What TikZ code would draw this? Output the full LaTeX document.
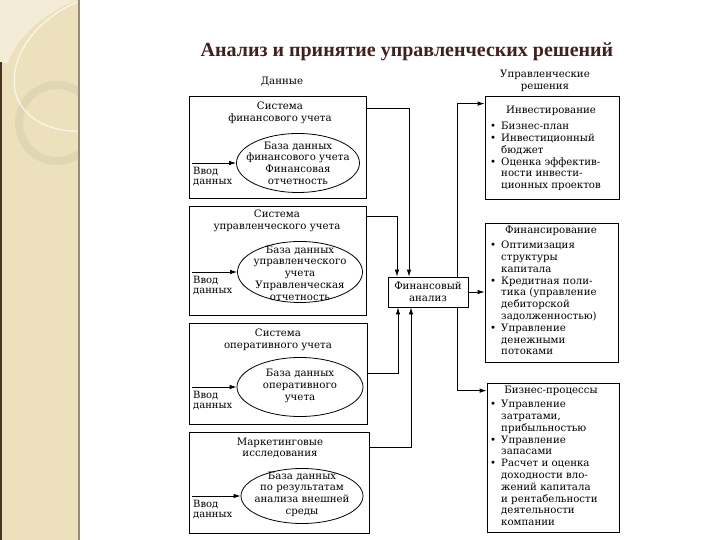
\documentclass[tikz,border=0pt]{standalone}
\usepackage{fontspec}
\setmainfont{DejaVu Serif}
\newfontfamily\headfont{Liberation Serif}
\usepackage{xcolor}
\usetikzlibrary{arrows.meta, positioning, shapes.geometric, calc}
\definecolor{stripbg}{RGB}{236,225,188}
\definecolor{striplt}{RGB}{243,236,214}
\definecolor{stripring}{RGB}{224,214,180}
\definecolor{stripedge}{RGB}{150,140,120}
\definecolor{stripdark}{RGB}{70,50,30}
\definecolor{titlebrown}{RGB}{66,32,28}
\newcommand{\blt}{\makebox[11pt][l]{\textbullet}}
\newcommand{\cnt}{\hspace*{11pt}}

\begin{document}
\begin{tikzpicture}[x=1pt, y=-1pt,
  sys/.style={rectangle, draw=black, line width=0.8pt, inner sep=0pt},
  db/.style={ellipse, draw=black, line width=0.8pt, inner sep=0pt},
  txt/.style={align=center, inner sep=0pt, font=\fontsize{10.2}{11.7}\selectfont},
  inp/.style={align=left, inner sep=0pt, font=\fontsize{10}{10.5}\selectfont},
  res/.style={rectangle, draw=black, line width=0.8pt, inner sep=0pt},
  lst/.style={align=left, anchor=north west, inner sep=0pt, font=\fontsize{10.2}{11.8}\selectfont},
  arr/.style={-{Latex[length=7pt, width=4.5pt]}, line width=0.8pt, black}
]
\useasboundingbox (0,0) rectangle (720,540);
\fill[white] (0,0) rectangle (720,540);
%% Slide strip
\begin{scope}
  \clip (0,0) rectangle (79,540);
  \fill[stripbg] (0,0) rectangle (79,540);
  \fill[striplt] (0,0) -- (77,0) .. controls (40,15) and (15,40) .. (8,63) -- (0,63) -- cycle;
  \draw[stripring, line width=8pt] (57,123) circle[radius=38];
  \draw[white!75!stripbg, line width=1.2pt] (77,2) .. controls (25,25) and (5,70) .. (18,100)
    .. controls (30,125) and (60,132) .. (79,131);
\end{scope}
\draw[stripedge, line width=1.5pt] (79,0) -- (79,540);
\draw[stripdark, line width=1.5pt] (0.75,62) -- (0.75,540);
%% Title and headings
\node[font=\headfont\bfseries\fontsize{20}{24}\selectfont, text=titlebrown] (title) at (407,52)
  {Анализ и принятие управленческих решений};
\node[txt] (datahd) at (282,82) {Данные};
\node[txt] (dechd) at (545,81) {Управленческие\\решения};
%% Data systems
\node[sys, minimum width=177pt, minimum height=102pt] (sys1) at (277.5,147) {};
\node[sys, minimum width=177pt, minimum height=109pt] (sys2) at (277.5,260.5) {};
\node[sys, minimum width=178pt, minimum height=101pt] (sys3) at (278,373.5) {};
\node[sys, minimum width=180pt, minimum height=101pt] (sys4) at (279,482.5) {};
\node[txt] (sys1t) at (280,113) {Система\\финансового учета};
\node[txt] (sys2t) at (277,221) {Система\\управленческого учета};
\node[txt] (sys3t) at (278,339.5) {Система\\оперативного учета};
\node[txt] (sys4t) at (280,448) {Маркетинговые\\исследования};
%% Databases
\node[db, minimum width=123pt, minimum height=59pt] (db1) at (298,163) {};
\node[db, minimum width=125pt, minimum height=61pt] (db2) at (300,272) {};
\node[db, minimum width=126pt, minimum height=59pt] (db3) at (300,387) {};
\node[db, minimum width=122pt, minimum height=55pt] (db4) at (302,496) {};
\node[txt] (db1t) at (298,163) {База данных\\финансового учета\\Финансовая\\отчетность};
\node[txt] (db2t) at (300,273) {База данных\\управленческого\\учета\\Управленческая\\отчетность};
\node[txt] (db3t) at (300,386) {База данных\\оперативного\\учета};
\node[txt] (db4t) at (302,494) {База данных\\по результатам\\анализа внешней\\среды};
%% Data input
\foreach \i/\y in {1/163, 2/272, 3/387, 4/496}{
  \coordinate (in\i) at (192,\y);
  \draw[arr] (in\i) -- (db\i.west);
  \node[inp, below right=4pt and 1pt of in\i] (in\i t) {Ввод\\данных};}
%% Financial analysis
\node[res, minimum width=80pt, minimum height=30pt, align=center,
      font=\fontsize{10.2}{11.7}\selectfont] (fin) at (428,292) {Финансовый\\анализ};
\draw[arr] ([yshift=-13pt]sys1.north east) -| ([xshift=-19pt]fin.north);
\draw[arr] ([yshift=-11pt]sys2.north east) -| ([xshift=-31pt]fin.north);
\draw[arr] (sys3.east) -| ([xshift=-30pt]fin.south);
\draw[arr] ([yshift=-16pt]sys4.north east) -| ([xshift=-17pt]fin.south);
%% Decisions
\node[res, minimum width=134pt, minimum height=103pt] (inv) at (552,147.5) {};
\node[res, minimum width=133pt, minimum height=139pt] (finc) at (551.5,292.5) {};
\node[res, minimum width=132pt, minimum height=149pt] (biz) at (553,457.5) {};
\node[txt] (invt) at (551,111) {Инвестирование};
\node[txt] (finct) at (551,231) {Финансирование};
\node[txt] (bizt) at (551,391) {Бизнес-процессы};
\node[lst] (invl) at (490,122) {\blt Бизнес-план\\
  \blt Инвестиционный\\ \cnt бюджет\\
  \blt Оценка эффектив-\\ \cnt ности инвести-\\ \cnt ционных проектов};
\node[lst] (fincl) at (490,241) {\blt Оптимизация\\ \cnt структуры\\ \cnt капитала\\
  \blt Кредитная поли-\\ \cnt тика (управление\\ \cnt дебиторской\\ \cnt задолженностью)\\
  \blt Управление\\ \cnt денежными\\ \cnt потоками};
\node[lst] (bizl) at (490,400) {\blt Управление\\ \cnt затратами,\\ \cnt прибыльностью\\
  \blt Управление\\ \cnt запасами\\
  \blt Расчет и оценка\\ \cnt доходности вло-\\ \cnt жений капитала\\
  \cnt и рентабельности\\ \cnt деятельности\\ \cnt компании};
\draw[arr] ([xshift=29pt]fin.north) |- ([yshift=-8pt]inv.north west);
\draw[arr] (fin.east) -- (fin.east -| finc.west);
\draw[arr] ([xshift=29pt]fin.south) |- ([yshift=-8pt]biz.north west);
\end{tikzpicture}
\end{document}
